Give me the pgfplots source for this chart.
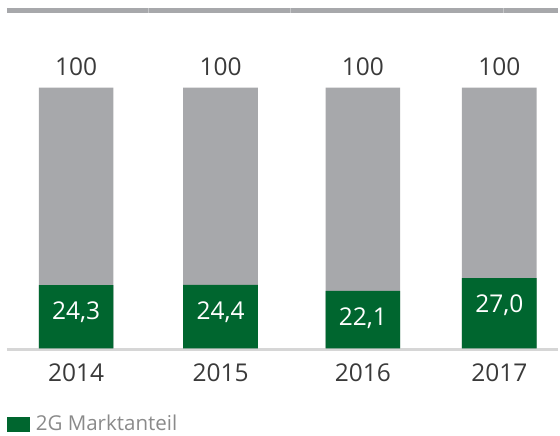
\documentclass[border=0pt]{standalone}
\usepackage{pgfplots}
\pgfplotsset{compat=1.18}
\usepackage{fontspec}
\setmainfont{Open Sans}

\definecolor{marktgruen}{HTML}{00662F}
\definecolor{balkengrau}{HTML}{A7A8AB}
\definecolor{liniegrau}{HTML}{D6D6D6}
\definecolor{textdunkel}{HTML}{3A3A3A}
\definecolor{legendtext}{HTML}{8A8A8A}

% x in pixel positions of the reference (0..560), y in percent
\pgfplotstableread{
x      gesamt  zweig
76.5   100     24.3
221.5  100     24.4
364.5  100     22.1
501.5  100     27.0
}\marktanteil

\begin{document}
\begin{tikzpicture}
\begin{axis}[
    scale only axis,
    width=280pt, height=131pt,
    xmin=0, xmax=560,
    ymin=0, ymax=100,
    axis x line=bottom,
    axis y line=none,
    x axis line style={draw=none},
    xtick={76.5,221.5,364.5,501.5},
    xticklabels={2014,2015,2016,2017},
    major tick length=0pt,
    xticklabel style={anchor=base, yshift=-16.5pt, inner sep=0pt,
        font=\fontsize{12.3}{14}\selectfont, text=textdunkel},
    ybar, bar width=37.5pt, bar shift=0pt,
    clip=false,
    /pgf/number format/assume math mode=true,
    legend style={at={(axis cs:7,-29.2)}, anchor=west, draw=none, fill=none,
        inner sep=0pt, outer sep=0pt,
        nodes={inner sep=0pt, text=legendtext},
        font=\fontsize{10.3}{12}\selectfont},
    legend cell align=left,
]
% bounding box of the reference picture
\path (axis cs:0,133.59) rectangle (axis cs:560,-33.21);

% top rule and baseline
\draw[balkengrau, line width=2.5pt] (axis cs:7,129.6) -- (axis cs:560,129.6);
\draw[white, opacity=0.35, line width=0.4pt] (axis cs:149,128.6) -- (axis cs:149,130.6);
\draw[white, opacity=0.35, line width=0.4pt] (axis cs:292,128.6) -- (axis cs:292,130.6);
\draw[white, opacity=0.35, line width=0.4pt] (axis cs:506,128.6) -- (axis cs:506,130.6);
\draw[liniegrau, line width=1.5pt] (axis cs:7,-0.4) -- (axis cs:560,-0.4);

\addplot[fill=balkengrau, draw=none, forget plot,
    nodes near coords,
    every node near coord/.append style={anchor=base, yshift=6pt,
        font=\fontsize{12.3}{14}\selectfont, text=textdunkel,
        /pgf/number format/.cd, fixed, precision=0}]
    table[x=x, y=gesamt] {\marktanteil};

\addplot[fill=marktgruen, draw=none,
    nodes near coords,
    every node near coord/.append style={anchor=base, yshift=-17.5pt,
        font=\fontsize{12.3}{14}\selectfont, text=white,
        /pgf/number format/.cd, use comma, fixed, fixed zerofill, precision=1},
    legend image code/.code={%
        \fill[marktgruen] (0pt,-3.75pt) rectangle (11.5pt,3.75pt);
        \path (14.5pt,0pt);}]
    table[x=x, y=zweig] {\marktanteil};
\addlegendentry{2G Marktanteil}
\end{axis}
\end{tikzpicture}
\end{document}
